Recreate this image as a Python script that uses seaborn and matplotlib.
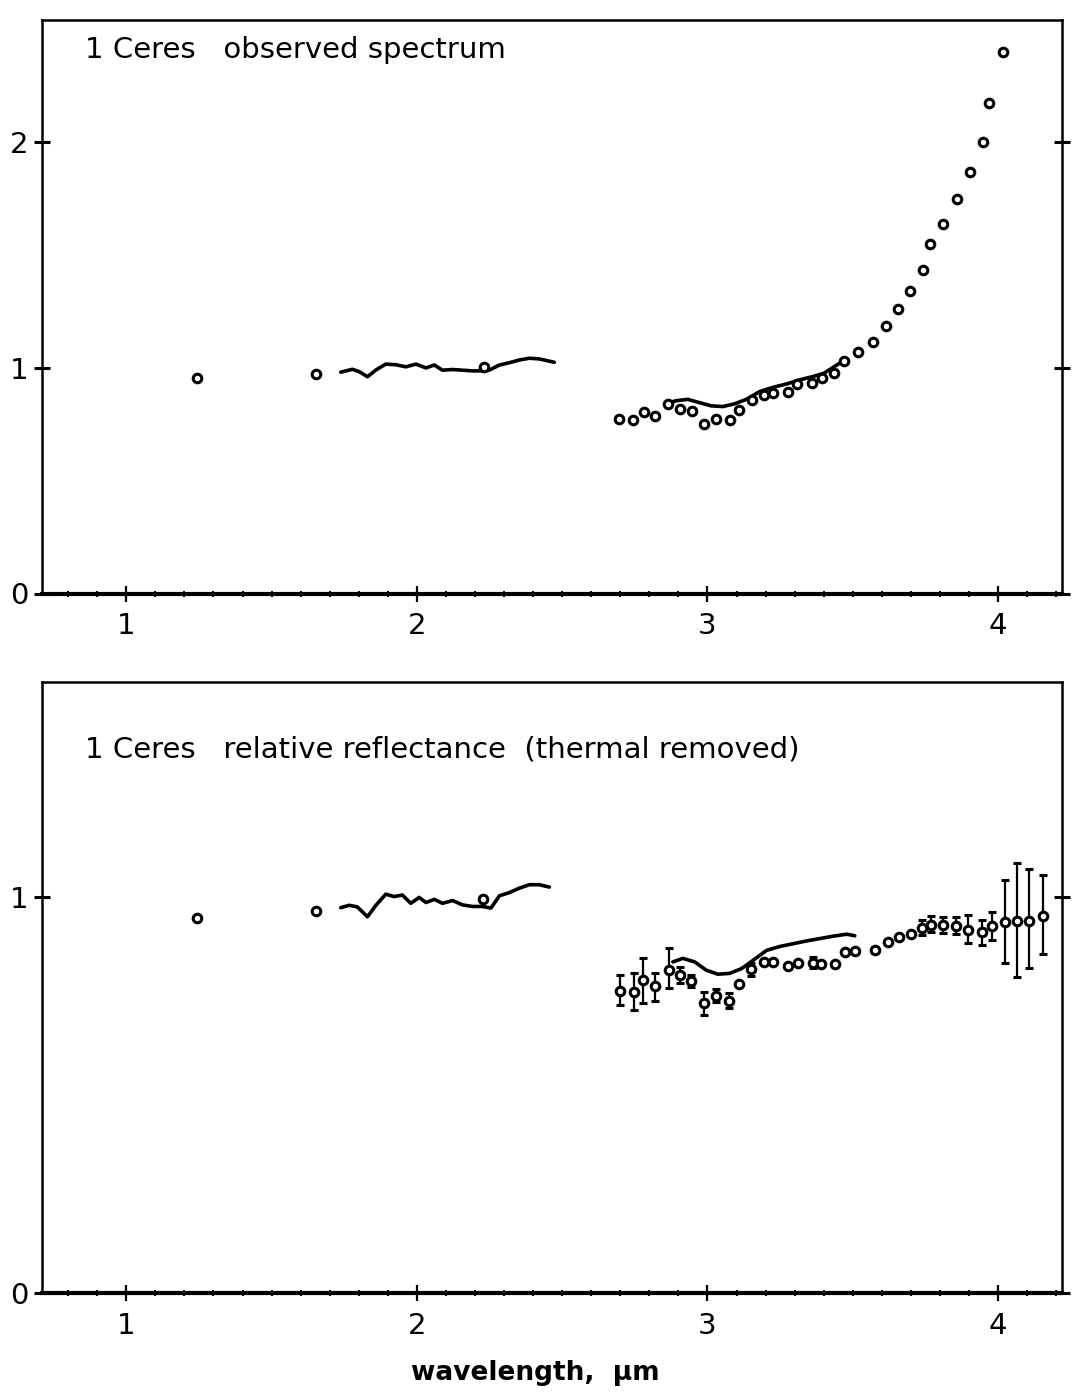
import numpy as np
import pandas as pd
import matplotlib
matplotlib.use("Agg")
import matplotlib.pyplot as plt
import seaborn as sns
from matplotlib.ticker import MultipleLocator, FixedLocator

# ---------------- data ----------------
# Top panel: observed spectrum
top_pts_x = [1.245, 1.652, 2.231]
top_pts_y = [0.954, 0.972, 1.003]

top_obs_x = [2.697, 2.745, 2.780, 2.818, 2.863, 2.904, 2.946, 2.987, 3.031, 3.076,
             3.107, 3.152, 3.193, 3.224, 3.276, 3.307, 3.359, 3.394, 3.435, 3.469,
             3.518, 3.569, 3.614, 3.655, 3.697, 3.741, 3.765, 3.811, 3.858, 3.903,
             3.948, 3.969, 4.017]
top_obs_y = [0.773, 0.768, 0.803, 0.786, 0.839, 0.817, 0.808, 0.750, 0.773, 0.768,
             0.812, 0.857, 0.879, 0.888, 0.892, 0.928, 0.932, 0.954, 0.976, 1.030,
             1.070, 1.114, 1.185, 1.260, 1.340, 1.433, 1.548, 1.636, 1.747, 1.867,
             2.000, 2.172, 2.398]

top_line1_x = [1.738, 1.778, 1.801, 1.830, 1.859, 1.893, 1.928, 1.962, 1.997, 2.031,
               2.060, 2.088, 2.123, 2.157, 2.192, 2.226, 2.249, 2.284, 2.318, 2.352,
               2.387, 2.421, 2.473]
top_line1_y = [0.980, 0.993, 0.983, 0.960, 0.990, 1.016, 1.013, 1.004, 1.016, 0.999,
               1.012, 0.989, 0.992, 0.989, 0.986, 0.986, 0.989, 1.012, 1.022, 1.034,
               1.042, 1.039, 1.024]

top_line2_x = [2.858, 2.893, 2.932, 2.973, 3.013, 3.053, 3.093, 3.134, 3.179, 3.225,
               3.272, 3.317, 3.360, 3.400, 3.455, 3.483]
top_line2_y = [0.842, 0.854, 0.860, 0.845, 0.831, 0.828, 0.840, 0.860, 0.894, 0.913,
               0.928, 0.946, 0.960, 0.975, 1.020, 1.034]

# Bottom panel: relative reflectance (thermal removed)
bot_pts_x = [1.242, 1.652, 2.228]
bot_pts_y = [0.947, 0.965, 0.995]

bot_obs_x = [2.700, 2.746, 2.779, 2.820, 2.867, 2.904, 2.945, 2.987, 3.030, 3.074,
             3.108, 3.151, 3.193, 3.225, 3.277, 3.311, 3.363, 3.390, 3.438, 3.472,
             3.507, 3.576, 3.622, 3.660, 3.699, 3.737, 3.768, 3.811, 3.854, 3.897,
             3.943, 3.978, 4.024, 4.066, 4.106, 4.154]
bot_obs_y = [0.764, 0.760, 0.791, 0.777, 0.816, 0.803, 0.789, 0.732, 0.752, 0.739,
             0.781, 0.819, 0.837, 0.838, 0.827, 0.835, 0.833, 0.832, 0.832, 0.861,
             0.865, 0.867, 0.888, 0.899, 0.908, 0.922, 0.930, 0.930, 0.928, 0.917,
             0.913, 0.928, 0.938, 0.941, 0.941, 0.953]
bot_err_lo = [0.728, 0.715, 0.734, 0.739, 0.770, 0.783, 0.774, 0.703, 0.735, 0.720,
              0.781, 0.801, 0.837, 0.838, 0.827, 0.835, 0.821, 0.832, 0.832, 0.861,
              0.865, 0.860, 0.888, 0.899, 0.908, 0.905, 0.913, 0.909, 0.907, 0.884,
              0.879, 0.892, 0.835, 0.800, 0.821, 0.857]
bot_err_hi = [0.804, 0.808, 0.848, 0.808, 0.871, 0.825, 0.804, 0.762, 0.768, 0.758,
              0.781, 0.833, 0.837, 0.838, 0.827, 0.835, 0.850, 0.832, 0.832, 0.861,
              0.865, 0.874, 0.888, 0.899, 0.908, 0.943, 0.953, 0.951, 0.951, 0.955,
              0.943, 0.964, 1.044, 1.087, 1.071, 1.056]

bot_line1_x = [1.738, 1.767, 1.795, 1.830, 1.859, 1.893, 1.922, 1.950, 1.979, 2.008,
               2.031, 2.060, 2.088, 2.123, 2.157, 2.192, 2.226, 2.255, 2.284, 2.318,
               2.352, 2.387, 2.421, 2.456]
bot_line1_y = [0.974, 0.980, 0.976, 0.951, 0.980, 1.008, 1.002, 1.006, 0.985, 1.000,
               0.987, 0.995, 0.985, 0.992, 0.981, 0.977, 0.977, 0.973, 1.004, 1.012,
               1.023, 1.032, 1.032, 1.026]

bot_line2_x = [2.881, 2.915, 2.956, 2.996, 3.036, 3.076, 3.117, 3.157, 3.203, 3.249,
               3.295, 3.341, 3.387, 3.433, 3.479, 3.507]
bot_line2_y = [0.837, 0.846, 0.837, 0.816, 0.806, 0.808, 0.820, 0.841, 0.866, 0.876,
               0.883, 0.890, 0.896, 0.902, 0.907, 0.903]

x_major = [1, 2, 3, 4]
x_labels = ["1", "2", "3", "4"]
top_yticks = [0, 1, 2]
bot_yticks = [0, 1]
top_title = "1 Ceres   observed spectrum"
bot_title = "1 Ceres   relative reflectance  (thermal removed)"
xlabel = "wavelength,  μm"

# ---------------- style ----------------
sns.set_style("ticks")
plt.rcParams['font.family'] = ['DejaVu Sans']
plt.rcParams.update({
    "text.color": "black", "axes.edgecolor": "black", "axes.labelcolor": "black",
    "xtick.color": "black", "ytick.color": "black",
})

W, H = 1072, 1395
fig = plt.figure(figsize=(W / 100, H / 100), dpi=100)

def frac_rect(l, t, r, b):
    return [l / W, 1 - b / H, (r - l) / W, (b - t) / H]

ax1 = fig.add_axes(frac_rect(42, 20, 1062, 593.5))
ax2 = fig.add_axes(frac_rect(42, 682, 1062, 1293.3))

circ = dict(marker="o", s=38, facecolor="white", edgecolor="black", linewidth=2.2, zorder=3)

def style_axes(ax, yticks, ymax):
    ax.set_xlim(0.71, 4.22)
    ax.set_ylim(0, ymax)
    ax.xaxis.set_major_locator(FixedLocator(x_major))
    ax.set_xticklabels(x_labels)
    ax.xaxis.set_minor_locator(MultipleLocator(0.1))
    ax.yaxis.set_major_locator(FixedLocator(yticks))
    ax.set_yticklabels([str(v) for v in yticks])
    ax.tick_params(axis="x", which="major", direction="inout", length=11, width=1.6,
                   labelsize=21, pad=8, top=False, colors="black")
    ax.tick_params(axis="x", which="minor", direction="inout", length=5, width=1.4,
                   top=False, colors="black")
    ax.tick_params(axis="y", which="major", direction="inout", length=12, width=2.2,
                   labelsize=21, pad=4, left=True, right=True, colors="black")
    for side in ["left", "right", "top"]:
        ax.spines[side].set_visible(True)
        ax.spines[side].set_linewidth(1.8)
        ax.spines[side].set_color("black")
    ax.spines["bottom"].set_linewidth(3.0)
    ax.spines["bottom"].set_color("black")
    ax.set_xlabel("")
    ax.set_ylabel("")

# Top panel
sns.lineplot(x=top_line1_x, y=top_line1_y, ax=ax1, color="black", linewidth=2.6, sort=False, estimator=None)
sns.lineplot(x=top_line2_x, y=top_line2_y, ax=ax1, color="black", linewidth=2.6, sort=False, estimator=None)
sns.scatterplot(x=top_pts_x, y=top_pts_y, ax=ax1, **circ)
sns.scatterplot(x=top_obs_x, y=top_obs_y, ax=ax1, **circ)
style_axes(ax1, top_yticks, 2.54)
ax1.text(0.042, 0.948, top_title, transform=ax1.transAxes, fontsize=21,
         ha="left", va="center", color="black")

# Bottom panel
sns.lineplot(x=bot_line1_x, y=bot_line1_y, ax=ax2, color="black", linewidth=2.6, sort=False, estimator=None)
sns.lineplot(x=bot_line2_x, y=bot_line2_y, ax=ax2, color="black", linewidth=2.6, sort=False, estimator=None)
yerr = [np.array(bot_obs_y) - np.array(bot_err_lo), np.array(bot_err_hi) - np.array(bot_obs_y)]
ax2.errorbar(bot_obs_x, bot_obs_y, yerr=yerr, fmt="none", ecolor="black",
             elinewidth=1.6, capsize=3, capthick=2.2, zorder=2)
sns.scatterplot(x=bot_pts_x, y=bot_pts_y, ax=ax2, **circ)
sns.scatterplot(x=bot_obs_x, y=bot_obs_y, ax=ax2, **circ)
style_axes(ax2, bot_yticks, 1.544)
ax2.text(0.042, 0.889, bot_title, transform=ax2.transAxes, fontsize=21,
         ha="left", va="center", color="black")
ax2.set_xlabel(xlabel, fontsize=19, fontweight="bold", color="black")
ax2.xaxis.set_label_coords(0.484, -0.109)

fig.savefig("out.png", dpi=100, facecolor="white")
